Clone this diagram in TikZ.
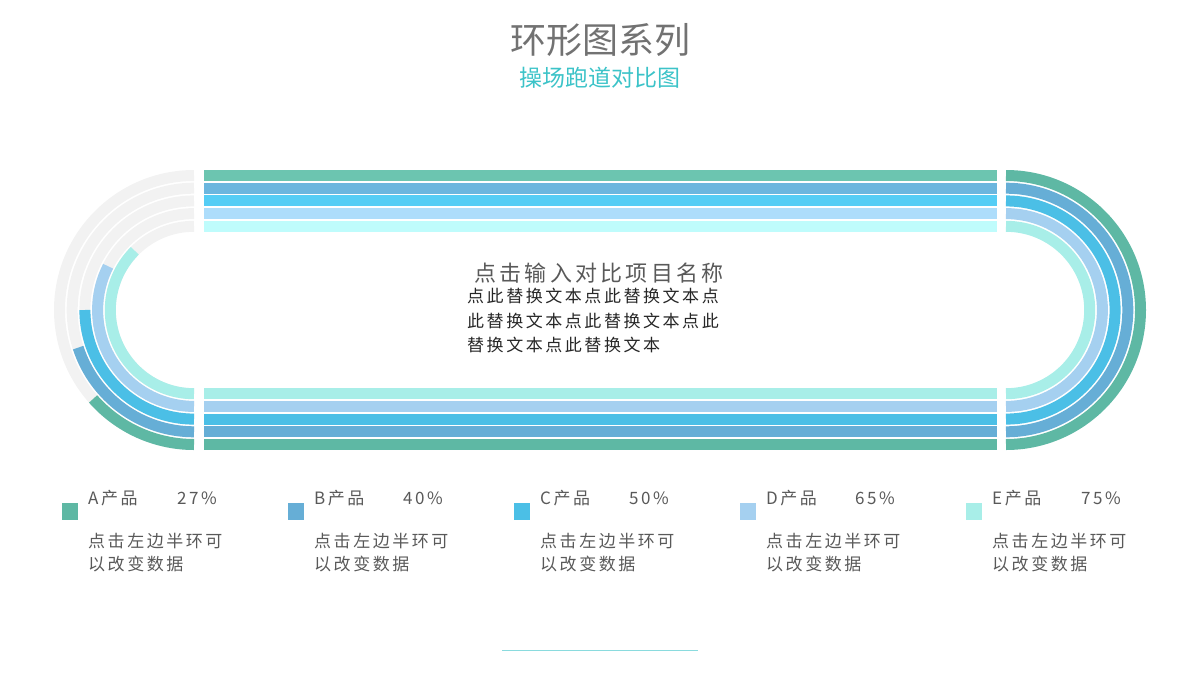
\documentclass[tikz,border=0pt]{standalone}
\usepackage{fontspec}
\newfontfamily\cjk{Noto Sans CJK SC}
\newfontfamily\cjks{Noto Sans CJK SC}[LetterSpace=15]
\definecolor{cA}{HTML}{5EB8A4}\definecolor{cB}{HTML}{66AED6}\definecolor{cC}{HTML}{4BBFE6}
\definecolor{cD}{HTML}{A5D0F0}\definecolor{cE}{HTML}{A8EEE8}
\definecolor{tA}{HTML}{6CC5B0}\definecolor{tB}{HTML}{6BB6DE}\definecolor{tC}{HTML}{55CDF5}
\definecolor{tD}{HTML}{ADDDFB}\definecolor{tE}{HTML}{BFFCFC}
\definecolor{bg}{HTML}{F2F2F2}\definecolor{tx}{HTML}{595959}\definecolor{teal}{HTML}{3CC3C8}
\begin{document}
\begin{tikzpicture}[x=1pt,y=-1pt,
  ring/.style={line width=11pt},
  lab/.style={font=\cjks\fontsize{17}{19}\selectfont,text=tx,anchor=west,inner sep=0},
  desc/.style={font=\cjks\fontsize{17}{23}\selectfont,text=tx,anchor=north west,align=left,inner sep=0}]
\useasboundingbox (0,0) rectangle (1200,675);
\node[font=\cjk\fontsize{36}{40}\selectfont,text=tx!85] (t) at (600,40) {环形图系列};
\node[font=\cjk\fontsize{23}{26}\selectfont,text=teal] (s) at (600,78) {操场跑道对比图};
\foreach \i/\p/\c/\t in {0/27/cA/tA,1/40/cB/tB,2/50/cC/tC,3/65/cD/tD,4/75/cE/tE}{
  \pgfmathsetmacro\r{134.5-12.7*\i}
  \draw[ring,bg] (194,310-\r) arc[start angle=-90,end angle=-270,radius=\r];
  \draw[ring,\c] (194,310+\r) arc[start angle=90,delta angle={\p*1.8},radius=\r];
  \draw[ring,\c] (1006,310-\r) arc[start angle=-90,end angle=90,radius=\r];
  \fill[\t] (204,310-\r-5.5) rectangle (997,310-\r+5.5);
  \fill[\c] (204,310+\r-5.5) rectangle (997,310+\r+5.5);
}
\node[font=\cjks\fontsize{22}{24}\selectfont,text=tx,anchor=west,inner sep=0] (h) at (474,273) {点击输入对比项目名称};
\node[font=\cjks\fontsize{17}{24.5}\selectfont,text=black!85,anchor=north west,align=left,inner sep=0] (b) at (467,288)
  {点此替换文本点此替换文本点\\此替换文本点此替换文本点此\\替换文本点此替换文本};
\foreach \i/\L/\p/\c in {0/A/27/cA,1/B/40/cB,2/C/50/cC,3/D/65/cD,4/E/75/cE}{
  \fill[\c] (62+226*\i,503) rectangle (78+226*\i,520);
  \node[lab] (l\L) at (88+226*\i,498) {\L 产品};
  \node[lab] (p\L) at (177+226*\i,498) {\p\%};
  \node[desc] (d\L) at (88+226*\i,533) {点击左边半环可\\以改变数据};
}
\draw[teal!60,line width=1pt] (502,650) -- (698,650);
\end{tikzpicture}
\end{document}
